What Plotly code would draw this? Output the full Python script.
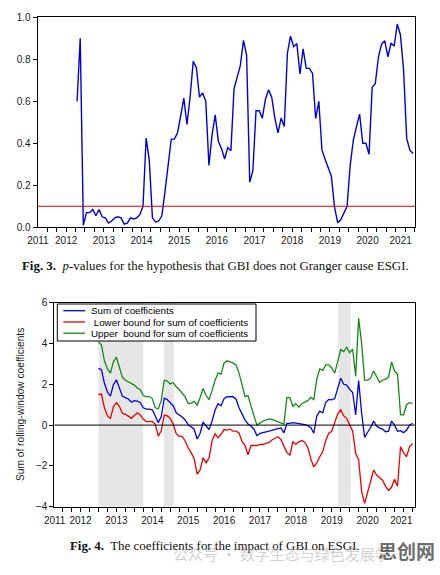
import plotly.graph_objects as go

W, H = 440, 575

# ---------------- data ----------------
# Fig. 3: rolling p-values (monthly)
top_start = 2012.79
pvals = [0.60, 0.90, 0.01, 0.07, 0.07, 0.085, 0.055, 0.085, 0.05, 0.045,
         0.02, 0.03, 0.045, 0.05, 0.045, 0.015, 0.02, 0.045, 0.04, 0.045,
         0.06, 0.10, 0.425, 0.32, 0.045, 0.025, 0.03, 0.055, 0.17, 0.29,
         0.42, 0.42, 0.45, 0.53, 0.615, 0.49, 0.62, 0.79, 0.76, 0.62,
         0.64, 0.60, 0.295, 0.44, 0.535, 0.41, 0.375, 0.325, 0.38, 0.365,
         0.66, 0.715, 0.77, 0.89, 0.82, 0.215, 0.27, 0.555, 0.555, 0.52,
         0.61, 0.655, 0.62, 0.52, 0.45, 0.52, 0.48, 0.83, 0.91, 0.86,
         0.875, 0.73, 0.85, 0.757, 0.757, 0.733, 0.518, 0.60, 0.367, 0.324,
         0.288, 0.243, 0.097, 0.022, 0.036, 0.065, 0.10, 0.296, 0.415, 0.479,
         0.539, 0.40, 0.40, 0.348, 0.666, 0.685, 0.812, 0.873, 0.889, 0.812,
         0.876, 0.863, 0.968, 0.916, 0.749, 0.423, 0.367, 0.351]
threshold = 0.10

# Fig. 4: rolling-window coefficient sums (monthly)
bot_start = 2013.0
sum_coef = [2.78, 2.72, 2.05, 1.62, 1.42, 1.98, 2.22, 1.86, 1.42, 1.35,
            1.28, 1.12, 1.20, 1.18, 1.10, 0.85, 0.78, 0.78, 0.75, 0.45,
            0.12, 0.42, 1.32, 1.25, 1.10, 0.95, 0.60, 0.52, 0.40, 0.25,
            0.02, -0.08, -0.20, -0.68, -0.40, 0.15, -0.05, -0.22, 0.20, 0.74,
            1.05, 0.95, 1.30, 1.39, 1.39, 1.39, 1.27, 0.85, 0.55, 0.25,
            0.05, -0.05, -0.20, -0.52, -0.40, -0.38, -0.33, -0.30, -0.25, -0.20,
            -0.17, -0.14, -0.38, 0.08, 0.08, 0.12, 0.10, 0.05, 0.05, 0.02,
            -0.03, -0.12, -0.40, 0.45, 0.68, 0.60, 1.10, 1.26, 1.24, 1.30,
            1.80, 2.30, 2.00, 1.96, 1.75, 1.60, 0.50, 2.18, 0.58, -0.60,
            -0.35, -0.12, 0.20, -0.05, -0.15, -0.20, -0.33, -0.30, 0.20, 0.00,
            -0.30, -0.27, -0.37, -0.25, 0.00, 0.09]
lower = [1.50, 1.52, 0.85, 0.45, 0.33, 0.90, 1.10, 0.92, 0.57, 0.53,
         0.44, 0.33, 0.47, 0.60, 0.50, 0.28, 0.17, 0.16, 0.18, 0.05,
         -0.54, -0.28, 0.49, 0.45, 0.33, 0.05, -0.42, -0.55, -0.55, -0.78,
         -1.12, -1.35, -1.65, -2.40, -2.20, -1.60, -1.85, -1.60, -0.75, -0.42,
         -0.62, -0.45, -0.22, -0.25, -0.20, -0.30, -0.30, -0.38, -0.80, -1.00,
         -1.45, -1.00, -1.00, -1.00, -0.95, -0.95, -0.90, -0.85, -0.73, -0.65,
         -0.57, -0.70, -1.05, -1.35, -1.47, -0.82, -0.95, -0.82, -0.75, -0.85,
         -1.10, -1.65, -2.05, -1.85, -1.55, -1.30, -0.75, -0.40, -0.30, 0.15,
         0.55, 0.75, 0.45, 0.33, 0.05, -0.30, -1.39, -1.71, -3.26, -3.84,
         -3.30, -2.80, -2.20, -2.45, -2.60, -2.70, -3.00, -3.20, -3.05, -2.65,
         -3.00, -1.06, -1.35, -1.55, -1.06, -0.90]
upper = [4.08, 3.92, 3.15, 2.75, 2.55, 3.10, 3.33, 2.85, 2.35, 2.20,
         2.12, 2.00, 1.96, 1.82, 1.74, 1.45, 1.40, 1.40, 1.30, 0.85,
         0.80, 1.20, 2.20, 2.16, 2.02, 2.08, 1.88, 1.75, 1.55, 1.38,
         1.06, 1.08, 1.16, 0.98, 1.35, 1.80, 1.45, 1.25, 1.70, 2.20,
         2.55, 2.50, 3.05, 3.15, 3.10, 3.05, 2.95, 2.55, 2.00, 1.40,
         1.45, 0.90, 0.45, 0.00, 0.10, 0.20, 0.25, 0.30, 0.28, 0.22,
         0.17, 0.10, 0.05, 1.35, 1.35, 0.92, 1.05, 0.88, 1.05, 1.13,
         1.20, 1.36, 1.25, 2.25, 2.75, 2.68, 2.95, 2.95, 2.80, 2.55,
         3.10, 3.70, 3.60, 3.82, 3.55, 3.72, 2.40, 5.23, 4.00, 2.20,
         2.20, 2.30, 2.65, 2.35, 2.10, 2.20, 2.25, 2.35, 3.10, 2.65,
         2.50, 0.50, 0.50, 1.00, 1.10, 1.07]
shade_start = [2013.0, 2014.83, 2019.68]
shade_end = [2014.25, 2015.10, 2020.03]
series_names = ["Sum of coefficients",
                "\u00a0Lower bound for sum of coefficients",
                "Upper\u00a0\u00a0bound for sum of coefficients"]
series_colors = ["#0000ee", "#ee0000", "#138a13"]

year_labels = [str(y) for y in range(2011, 2022)]
top_label_pos = [2011.75] + [y + 0.501 for y in range(2012, 2021)] + [2021.38]
bot_label_pos = [2011.78] + [y + 0.501 for y in range(2012, 2021)] + [2021.44]
quarters = [2012 + 0.25 * k for k in range(40)]

top_range = [2011.745, 2021.76]
bot_range = [2011.77, 2021.82]

caption3 = "<b>Fig. 3.</b>  <i>p</i>-values for the hypothesis that GBI does not Granger cause ESGI."
caption4 = "<b>Fig. 4.</b>  The coefficients for the impact of GBI on ESGI."
ytitle4 = "Sum of rolling-window coefficients"

# ---------------- helpers ----------------
def px(x):
    return x / W

def py(y):
    return 1 - y / H

TICKFONT = dict(family="Liberation Sans, Arial, sans-serif", size=10, color="#1a1a1a")

x_top = [top_start + i / 12 for i in range(len(pvals))]
x_bot = [bot_start + i / 12 for i in range(len(sum_coef))]

fig = go.Figure()
fig.add_trace(go.Scatter(x=x_top, y=pvals, mode="lines", xaxis="x", yaxis="y",
                         line=dict(color="#0000dd", width=1.4), showlegend=False))
fig.add_trace(go.Scatter(x=top_range, y=[threshold, threshold], mode="lines",
                         xaxis="x", yaxis="y",
                         line=dict(color="#dd0000", width=1.1), showlegend=False))

for vals, name, col in zip([sum_coef, lower, upper], series_names, series_colors):
    fig.add_trace(go.Scatter(x=x_bot, y=vals, mode="lines", xaxis="x2", yaxis="y2",
                             name=name, line=dict(color=col, width=1.3), showlegend=False))
fig.add_trace(go.Scatter(x=bot_range, y=[0, 0], mode="lines", xaxis="x2", yaxis="y2",
                         line=dict(color="black", width=1), showlegend=False))

shapes = []
for s, e in zip(shade_start, shade_end):
    shapes.append(dict(type="rect", xref="x2", yref="y2", x0=s, x1=e, y0=-4, y1=6,
                       fillcolor="#e6e6e6", line=dict(width=0), layer="below"))

# legend box (Fig. 4)
lx0, lx1, ly0, ly1 = 57.3, 256, 304, 341
shapes.append(dict(type="rect", xref="paper", yref="paper",
                   x0=px(lx0), x1=px(lx1), y0=py(ly1), y1=py(ly0),
                   fillcolor="white", line=dict(color="black", width=1), layer="above"))
rows = [310.7, 322.0, 333.2]
annotations = []
for r, name, col in zip(rows, series_names, series_colors):
    shapes.append(dict(type="line", xref="paper", yref="paper",
                       x0=px(63.3), x1=px(85), y0=py(r), y1=py(r),
                       line=dict(color=col, width=1.3), layer="above"))
    annotations.append(dict(x=px(88.5), y=py(r), xref="paper", yref="paper", text=name,
                            showarrow=False, xanchor="left", yanchor="middle",
                            font=dict(family="Liberation Sans, Arial, sans-serif",
                                      size=9.8, color="black")))

annotations += [
    dict(x=px(20), y=py(405), xref="paper", yref="paper", text=ytitle4, textangle=-90,
         showarrow=False, xanchor="center", yanchor="middle",
         font=dict(family="Liberation Sans, Arial, sans-serif", size=10.2, color="#1a1a1a")),
    dict(x=px(215.4), y=py(265.7), xref="paper", yref="paper", text=caption3,
         showarrow=False, xanchor="center", yanchor="middle",
         font=dict(family="Liberation Serif, Times New Roman, serif", size=12.9, color="#111")),
    dict(x=px(214.7), y=py(545.7), xref="paper", yref="paper", text=caption4,
         showarrow=False, xanchor="center", yanchor="middle",
         font=dict(family="Liberation Serif, Times New Roman, serif", size=12.9, color="#111")),
    dict(x=px(281), y=py(553), xref="paper", yref="paper",
         text="公众号 · 数字生态与绿色发展学", showarrow=False,
         xanchor="center", yanchor="middle",
         font=dict(family="Noto Sans CJK SC", size=15, color="rgba(150,150,150,0.45)")),
    dict(x=px(406), y=py(550), xref="paper", yref="paper",
         text="<b>思创网</b>", showarrow=False, xanchor="center", yanchor="middle",
         font=dict(family="Noto Sans CJK SC", size=19, color="rgba(70,70,70,0.8)")),
]

common_x = dict(showline=True, linecolor="black", linewidth=1, mirror=True,
                showgrid=False, zeroline=False, tickmode="array", ticktext=year_labels,
                ticks="outside", ticklen=4, tickcolor="rgba(0,0,0,0)",
                tickfont=TICKFONT, automargin=False,
                minor=dict(tickmode="array", tickvals=quarters, ticks="outside",
                           ticklen=4, tickcolor="black", tickwidth=1, showgrid=False))
common_y = dict(showline=True, linecolor="black", linewidth=1, mirror=True,
                showgrid=False, zeroline=False, ticks="outside", ticklen=4,
                tickcolor="black", tickfont=TICKFONT, automargin=False)

fig.update_layout(
    width=W, height=H, margin=dict(l=0, r=0, t=0, b=0, autoexpand=False),
    paper_bgcolor="white", plot_bgcolor="white", showlegend=False,
    xaxis=dict(domain=[px(37.7), px(415)], anchor="y", range=top_range,
               tickvals=top_label_pos, **common_x),
    yaxis=dict(domain=[py(227.3), py(17.3)], anchor="x", range=[0, 1.0],
               tickvals=[0, 0.2, 0.4, 0.6, 0.8, 1.0], tickformat=".1f", **common_y),
    xaxis2=dict(domain=[px(54.3), px(415)], anchor="y2", range=bot_range,
                tickvals=bot_label_pos, **common_x),
    yaxis2=dict(domain=[py(506.7), py(302.7)], anchor="x2", range=[-4, 6],
                tickvals=[-4, -2, 0, 2, 4, 6], **common_y),
    shapes=shapes, annotations=annotations,
)

fig.write_html("out.html")
